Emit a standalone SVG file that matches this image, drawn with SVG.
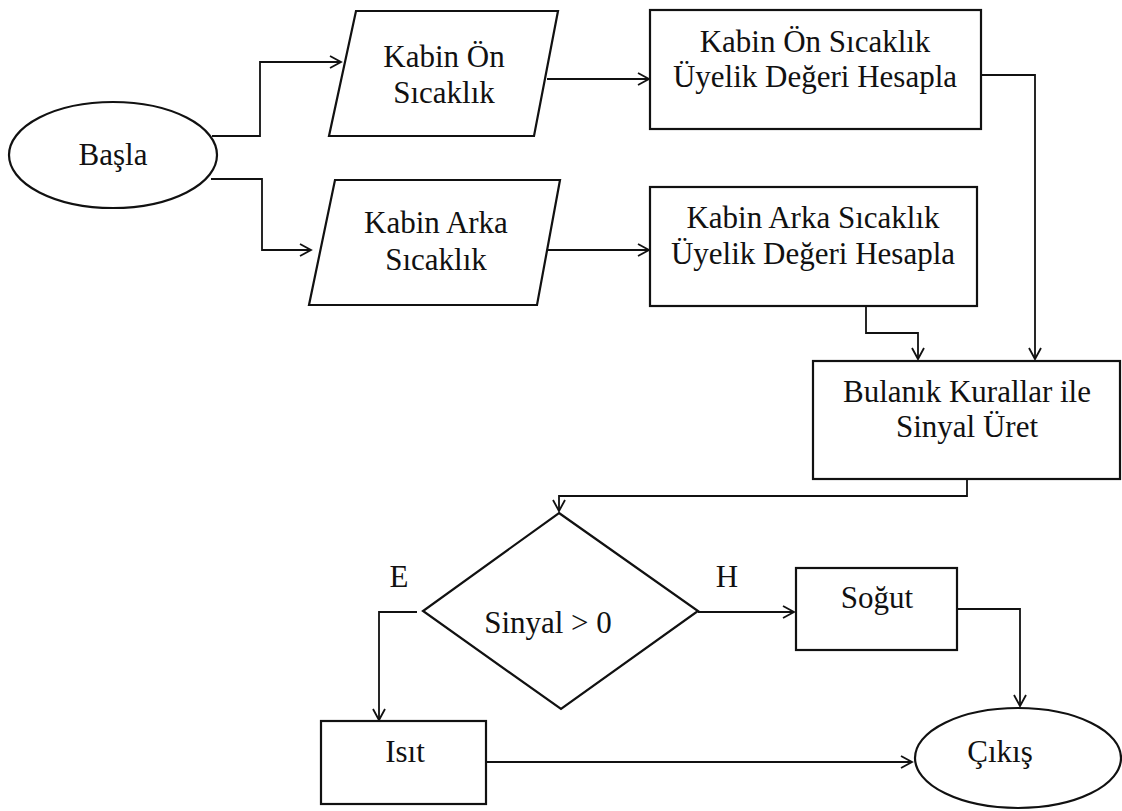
<svg xmlns="http://www.w3.org/2000/svg" width="1122" height="811" viewBox="0 0 1122 811">
<defs>
<marker id="arr" markerWidth="14" markerHeight="14" refX="12" refY="7" orient="auto" markerUnits="userSpaceOnUse">
<path d="M1,1 L12,7 L1,13" fill="none" stroke="#111" stroke-width="1.8"/>
</marker>
<style>
.s{fill:#fff;stroke:#111;stroke-width:2.2}
.t{font-size:31px;fill:#111;text-anchor:middle}
.c{fill:none;stroke:#111;stroke-width:1.8;marker-end:url(#arr)}
</style>
</defs>
<rect width="1122" height="811" fill="#fff"/>
<g id="connectors">
<path class="c" d="M212,136 H260 V62 H341"/>
<path class="c" d="M211,179 H262 V250 H311"/>
<path class="c" d="M547,79 H649"/>
<path class="c" d="M547,250 H649"/>
<path class="c" d="M981,75 H1035 V359"/>
<path class="c" d="M866,306 V333 H918 V359"/>
<path class="c" d="M967,479 V496 H559 V511"/>
<path class="c" d="M698,612 H794"/>
<path class="c" d="M417,612 H379 V720"/>
<path class="c" d="M486,762 H912"/>
<path class="c" d="M957,609 H1020 V706"/>
</g>
<g font-family="'Liberation Serif', 'DejaVu Serif', serif">
<g id="basla">
<ellipse class="s" cx="113" cy="155" rx="104" ry="53"/>
<text class="t" x="113" y="165">Başla</text>
</g>
<g id="kabin-on">
<polygon class="s" points="356,11 558,11 534,136 329,136"/>
<text class="t" x="444" y="67">Kabin Ön</text>
<text class="t" x="444" y="103">Sıcaklık</text>
</g>
<g id="kabin-arka">
<polygon class="s" points="335,180 560,180 537,305 309,305"/>
<text class="t" x="436" y="233">Kabin Arka</text>
<text class="t" x="436" y="270">Sıcaklık</text>
</g>
<g id="on-uyelik">
<rect class="s" x="650" y="10" width="331" height="119"/>
<text class="t" x="815" y="52">Kabin Ön Sıcaklık</text>
<text class="t" x="815" y="87">Üyelik Değeri Hesapla</text>
</g>
<g id="arka-uyelik">
<rect class="s" x="650" y="187" width="327" height="119"/>
<text class="t" x="813" y="228">Kabin Arka Sıcaklık</text>
<text class="t" x="813" y="264">Üyelik Değeri Hesapla</text>
</g>
<g id="bulanik">
<rect class="s" x="813" y="361" width="307" height="118"/>
<text class="t" x="967" y="402">Bulanık Kurallar ile</text>
<text class="t" x="967" y="437">Sinyal Üret</text>
</g>
<g id="karar">
<polygon class="s" points="559,513 698,611 561,709 423,611"/>
<text class="t" x="548" y="633">Sinyal &gt; 0</text>
<text class="t" x="399" y="587">E</text>
<text class="t" x="727" y="587">H</text>
</g>
<g id="sogut">
<rect class="s" x="796" y="568" width="161" height="82"/>
<text class="t" x="877" y="608">Soğut</text>
</g>
<g id="isit">
<rect class="s" x="321" y="721" width="165" height="83"/>
<text class="t" x="405" y="762">Isıt</text>
</g>
<g id="cikis">
<ellipse class="s" cx="1018" cy="758" rx="103" ry="50"/>
<text class="t" x="1000" y="762">Çıkış</text>
</g>
</g>
</svg>
